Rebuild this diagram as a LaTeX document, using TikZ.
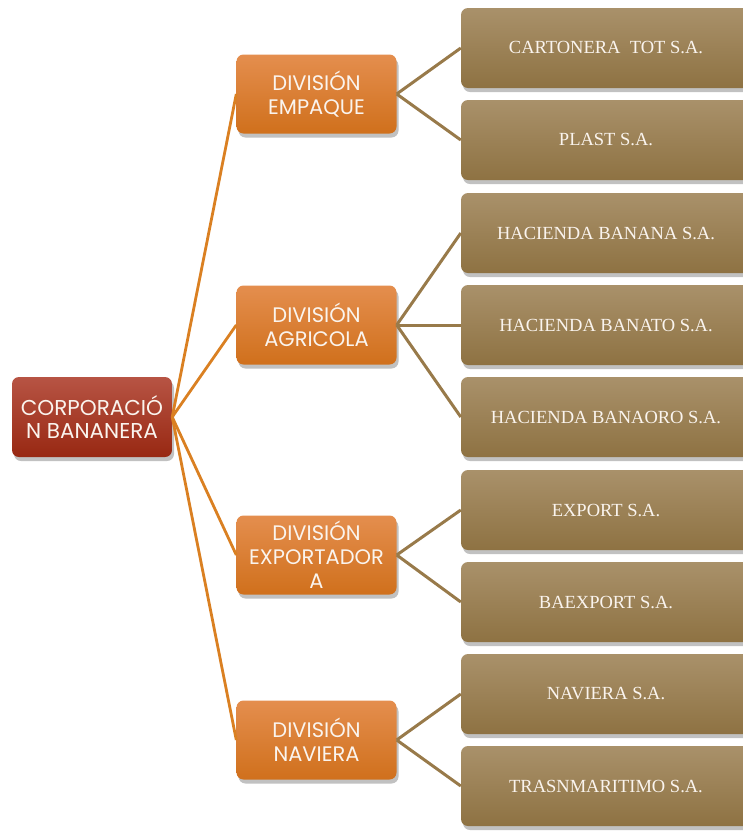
\documentclass[tikz,border=0pt]{standalone}
\usepackage{fontspec}
\setmainfont{Liberation Serif}
\newfontfamily\gothic{Poppins}
\usetikzlibrary{shadows}
\definecolor{roottop}{RGB}{183,84,68}
\definecolor{rootbot}{RGB}{152,40,18}
\definecolor{divtop}{RGB}{228,142,78}
\definecolor{divbot}{RGB}{208,112,28}
\definecolor{leaftop}{RGB}{169,145,106}
\definecolor{leafbot}{RGB}{142,114,66}
\definecolor{orangeline}{RGB}{218,128,34}
\definecolor{brownline}{RGB}{152,122,74}
\definecolor{boxtext}{RGB}{250,244,238}
\tikzset{
  base/.style={rounded corners=7pt, align=center, inner sep=1pt, text=boxtext,
    drop shadow={shadow xshift=2pt, shadow yshift=-4pt, opacity=0.35, fill=black!70}},
  rootbox/.style={base, top color=roottop, bottom color=rootbot,
    minimum width=160pt, minimum height=80pt,
    font=\gothic\fontsize{21.5}{23}\selectfont},
  divbox/.style={base, top color=divtop, bottom color=divbot,
    minimum width=160pt, minimum height=79pt,
    font=\gothic\fontsize{21}{24}\selectfont},
  leafbox/.style={base, top color=leaftop, bottom color=leafbot,
    minimum width=290pt, minimum height=80pt,
    font=\fontsize{18.5}{21}\selectfont},
  orangelink/.style={draw=orangeline, line width=2.8pt},
  brownlink/.style={draw=brownline, line width=3pt},
}
\begin{document}
\begin{tikzpicture}[x=1pt,y=-1pt]
\useasboundingbox (0,0) rectangle (743,831);
% nodes
\node[rootbox] (root) at (92,417) {CORPORACIÓ\\N BANANERA};
\node[divbox] (emp) at (316.5,94) {DIVISIÓN\\EMPAQUE};
\node[divbox] (agr) at (316.5,325) {DIVISIÓN\\AGRICOLA};
\node[divbox] (exp) at (316.5,555) {DIVISIÓN\\EXPORTADOR\\A};
\node[divbox] (nav) at (316.5,740) {DIVISIÓN\\NAVIERA};
\node[leafbox] (l1) at (606,48) {CARTONERA\ \ TOT S.A.};
\node[leafbox] (l2) at (606,140) {PLAST S.A.};
\node[leafbox] (l3) at (606,233) {HACIENDA BANANA S.A.};
\node[leafbox] (l4) at (606,325) {HACIENDA BANATO S.A.};
\node[leafbox] (l5) at (606,417) {HACIENDA BANAORO S.A.};
\node[leafbox] (l6) at (606,510) {EXPORT S.A.};
\node[leafbox] (l7) at (606,602) {BAEXPORT S.A.};
\node[leafbox] (l8) at (606,694) {NAVIERA S.A.};
\node[leafbox] (l9) at (606,786) {TRASNMARITIMO S.A.};
% connectors
\foreach \d in {emp,agr,exp,nav} \draw[orangelink] (root.east) -- (\d.west);
\draw[brownlink] (emp.east) -- (l1.west);
\draw[brownlink] (emp.east) -- (l2.west);
\draw[brownlink] (agr.east) -- (l3.west);
\draw[brownlink] (agr.east) -- (l4.west);
\draw[brownlink] (agr.east) -- (l5.west);
\draw[brownlink] (exp.east) -- (l6.west);
\draw[brownlink] (exp.east) -- (l7.west);
\draw[brownlink] (nav.east) -- (l8.west);
\draw[brownlink] (nav.east) -- (l9.west);
\end{tikzpicture}
\end{document}
